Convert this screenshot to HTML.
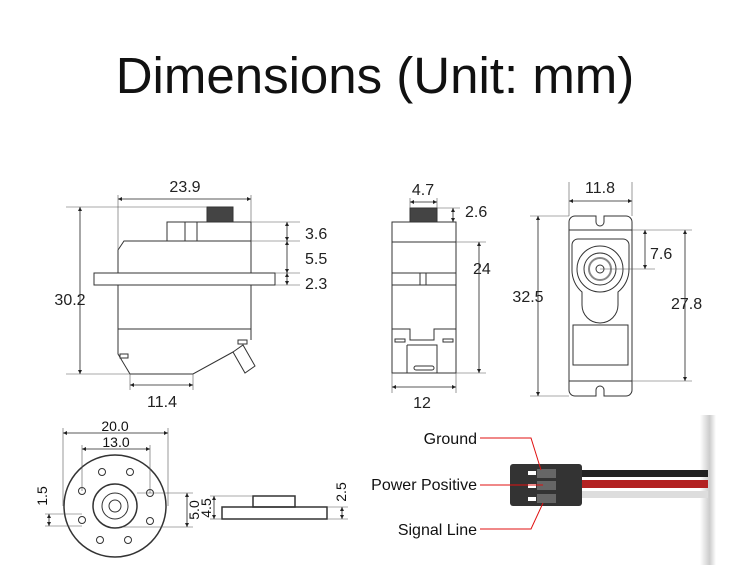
<!DOCTYPE html>
<html><head><style>
body{margin:0;background:#fff;}
svg{display:block;font-family:"Liberation Sans",sans-serif;}
</style></head><body>
<svg width="750" height="582" viewBox="0 0 750 582" xmlns="http://www.w3.org/2000/svg">
<defs>
<marker id="a" viewBox="0 0 6 6" refX="6" refY="3" markerWidth="5" markerHeight="5" orient="auto-start-reverse"><path d="M0,0L6,3L0,6z" fill="#222"/></marker>
<linearGradient id="sh" x1="0" x2="1"><stop offset="0" stop-color="#fff"/><stop offset="0.6" stop-color="#ccc"/><stop offset="1" stop-color="#fff"/></linearGradient>
</defs>
<text x="375" y="93" font-size="51" text-anchor="middle" fill="#111">Dimensions (Unit: mm)</text>

<g fill="none" stroke="#333" stroke-width="1">
<rect x="207" y="207" width="26" height="15" fill="#444"/>
<rect x="167" y="222" width="84" height="19"/>
<line x1="185" y1="222" x2="185" y2="241"/><line x1="197" y1="222" x2="197" y2="241"/>
<path d="M118,273 V250 L124,241 H251 V273"/>
<rect x="94" y="273" width="181" height="12"/>
<path d="M118,285 V354 L130,374 H193 L233,352 M251,285 V340"/>
<line x1="118" y1="329" x2="251" y2="329"/>
<rect x="120" y="354" width="8" height="4"/>
<rect x="238" y="340" width="9" height="4"/>
<path d="M233,352 L243,345 L255,366 L245,373 Z"/>
<rect x="410" y="208" width="27" height="14" fill="#444"/>
<rect x="392" y="222" width="64" height="151"/>
<line x1="392" y1="242" x2="456" y2="242"/>
<line x1="392" y1="273" x2="456" y2="273"/>
<line x1="392" y1="285" x2="456" y2="285"/>
<line x1="420" y1="273" x2="420" y2="285"/><line x1="426" y1="273" x2="426" y2="285"/>
<path d="M392,329 H410 V340 H434 V329 H456"/>
<path d="M407,345 H437 V373 M407,345 V373"/>
<rect x="395" y="339" width="10" height="3"/><rect x="443" y="339" width="10" height="3"/>
<rect x="414" y="366" width="20" height="4" rx="2"/>
<path d="M575,216 H596 V222 A4,4 0 0 0 604,222 V216 H626 A6,6 0 0 1 632,222 V390 A6,6 0 0 1 626,396 H604 V390 A4,4 0 0 0 596,390 V396 H575 A6,6 0 0 1 569,390 V222 A6,6 0 0 1 575,216 Z"/>
<line x1="569" y1="230" x2="632" y2="230"/>
<line x1="569" y1="381" x2="632" y2="381"/>
<path d="M578,239 H623 A6,6 0 0 1 629,245 V269 A29,29 0 0 1 618,292 V305 A18,18 0 0 1 582,305 V292 A29,29 0 0 1 572,269 V245 A6,6 0 0 1 578,239 Z"/>
<circle cx="600" cy="269" r="23"/>
<circle cx="600" cy="269" r="16"/>
<circle cx="600" cy="269" r="11" stroke="#888" stroke-width="2"/>
<circle cx="600" cy="269" r="4"/>
<rect x="573" y="325" width="55" height="40"/>
<circle cx="115" cy="506" r="51" stroke-width="1.5"/>
<circle cx="115" cy="506" r="22" stroke-width="1.5"/>
<circle cx="115" cy="506" r="13"/>
<circle cx="115" cy="506" r="6"/>
<g>
<circle cx="102" cy="472" r="3.5"/><circle cx="130" cy="472" r="3.5"/>
<circle cx="82" cy="491" r="3.5"/><circle cx="150" cy="493" r="3.5"/>
<circle cx="82" cy="520" r="3.5"/><circle cx="150" cy="521" r="3.5"/>
<circle cx="100" cy="540" r="3.5"/><circle cx="128" cy="540" r="3.5"/>
</g>
<rect x="222" y="507" width="105" height="12" stroke-width="1.5"/>
<rect x="253" y="496" width="42" height="11" stroke-width="1.5"/>
</g>

<g stroke="#555" stroke-width="0.6" fill="none">
<line x1="118" y1="195" x2="118" y2="250"/><line x1="251" y1="195" x2="251" y2="222"/>
<line x1="66" y1="207" x2="207" y2="207"/><line x1="66" y1="374" x2="130" y2="374"/>
<line x1="251" y1="222" x2="300" y2="222"/><line x1="251" y1="241" x2="300" y2="241"/>
<line x1="275" y1="273" x2="300" y2="273"/><line x1="275" y1="285" x2="300" y2="285"/>
<line x1="130" y1="374" x2="130" y2="390"/><line x1="193" y1="374" x2="193" y2="390"/>
<line x1="410" y1="198" x2="410" y2="208"/><line x1="437" y1="198" x2="437" y2="208"/>
<line x1="437" y1="208" x2="460" y2="208"/><line x1="456" y1="242" x2="486" y2="242"/><line x1="456" y1="373" x2="486" y2="373"/>
<line x1="392" y1="373" x2="392" y2="393"/><line x1="456" y1="373" x2="456" y2="393"/>
<line x1="569" y1="182" x2="569" y2="216"/><line x1="632" y1="182" x2="632" y2="216"/>
<line x1="530" y1="216" x2="569" y2="216"/><line x1="530" y1="396" x2="569" y2="396"/>
<line x1="632" y1="230" x2="692" y2="230"/><line x1="600" y1="269" x2="655" y2="269"/><line x1="632" y1="381" x2="692" y2="381"/>
<line x1="63" y1="428" x2="63" y2="506"/><line x1="168" y1="428" x2="168" y2="506"/>
<line x1="82" y1="445" x2="82" y2="491"/><line x1="150" y1="445" x2="150" y2="493"/>
<line x1="137" y1="493" x2="193" y2="493"/><line x1="120" y1="527" x2="193" y2="527"/>
<line x1="45" y1="514" x2="82" y2="514"/><line x1="45" y1="526" x2="82" y2="526"/>
<line x1="210" y1="496" x2="253" y2="496"/><line x1="210" y1="519" x2="222" y2="519"/>
<line x1="327" y1="507" x2="348" y2="507"/><line x1="327" y1="519" x2="348" y2="519"/>
</g>
<g stroke="#222" stroke-width="0.8" marker-start="url(#a)" marker-end="url(#a)">
<line x1="118" y1="199" x2="251" y2="199"/>
<line x1="80" y1="207" x2="80" y2="374"/>
<line x1="287" y1="222" x2="287" y2="241"/>
<line x1="287" y1="241" x2="287" y2="273"/>
<line x1="287" y1="273" x2="287" y2="285"/>
<line x1="130" y1="385" x2="193" y2="385"/>
<line x1="410" y1="202" x2="437" y2="202"/>
<line x1="453" y1="208" x2="453" y2="222"/>
<line x1="479" y1="242" x2="479" y2="373"/>
<line x1="392" y1="387" x2="456" y2="387"/>
<line x1="569" y1="201" x2="632" y2="201"/>
<line x1="538" y1="216" x2="538" y2="396"/>
<line x1="645" y1="230" x2="645" y2="269"/>
<line x1="685" y1="230" x2="685" y2="381"/>
<line x1="63" y1="433" x2="168" y2="433"/>
<line x1="82" y1="449" x2="150" y2="449"/>
<line x1="187" y1="493" x2="187" y2="527"/>
<line x1="49" y1="514" x2="49" y2="526"/>
<line x1="214" y1="496" x2="214" y2="519"/>
<line x1="342" y1="507" x2="342" y2="519"/>
</g>
<g font-size="16" fill="#222">
<text x="185" y="192" text-anchor="middle">23.9</text>
<text x="70" y="305" text-anchor="middle">30.2</text>
<text x="305" y="239">3.6</text>
<text x="305" y="264">5.5</text>
<text x="305" y="289">2.3</text>
<text x="162" y="407" text-anchor="middle">11.4</text>
<text x="423" y="195" text-anchor="middle">4.7</text>
<text x="465" y="217">2.6</text>
<text x="473" y="274">24</text>
<text x="422" y="408" text-anchor="middle">12</text>
<text x="600" y="193" text-anchor="middle">11.8</text>
<text x="528" y="302" text-anchor="middle">32.5</text>
<text x="650" y="259">7.6</text>
<text x="671" y="309">27.8</text>
</g>
<g font-size="14" fill="#111">
<text x="115" y="431" text-anchor="middle">20.0</text>
<text x="116" y="447" text-anchor="middle">13.0</text>
<text transform="translate(199,510) rotate(-90)" text-anchor="middle">5.0</text>
<text transform="translate(47,496) rotate(-90)" text-anchor="middle">1.5</text>
<text transform="translate(211,508) rotate(-90)" text-anchor="middle">4.5</text>
<text transform="translate(346,492) rotate(-90)" text-anchor="middle">2.5</text>
</g>
<rect x="700" y="415" width="16" height="150" fill="url(#sh)"/>
<rect x="580" y="470" width="128" height="7" fill="#222"/>
<rect x="580" y="480" width="128" height="8" fill="#b32222"/>
<rect x="580" y="491" width="128" height="7" fill="#ddd"/>
<rect x="510" y="464" width="72" height="42" rx="3" fill="#333"/>
<g fill="#666"><rect x="537" y="469" width="19" height="9"/><rect x="537" y="481" width="19" height="9"/><rect x="537" y="494" width="19" height="9"/></g>
<g fill="#fff"><rect x="528" y="471" width="8" height="4"/><rect x="528" y="484" width="8" height="4"/><rect x="528" y="497" width="8" height="4"/></g>
<g stroke="#e01010" stroke-width="1" fill="none">
<polyline points="480,438 531,438 541,470"/>
<line x1="480" y1="485" x2="543" y2="485"/>
<polyline points="480,529 531,529 543,503"/>
</g>
<g font-size="16" fill="#111" text-anchor="end">
<text x="477" y="444">Ground</text>
<text x="477" y="490">Power Positive</text>
<text x="477" y="535">Signal Line</text>
</g>
</svg>
</body></html>
